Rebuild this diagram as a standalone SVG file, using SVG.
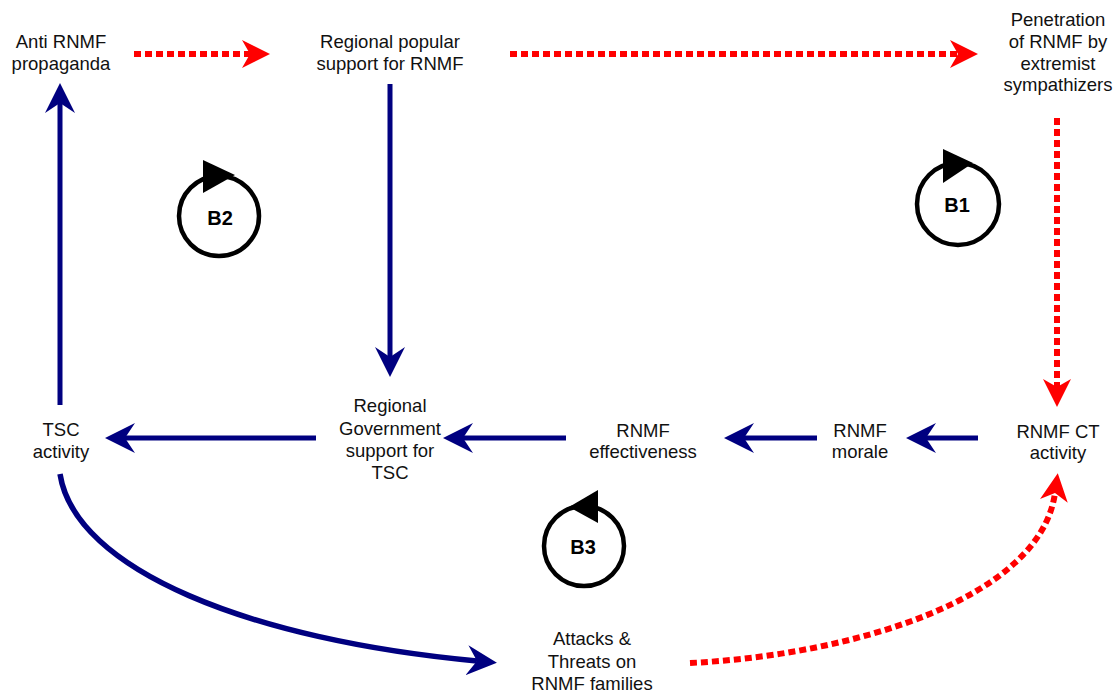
<svg xmlns="http://www.w3.org/2000/svg" width="1119" height="694" viewBox="0 0 1119 694">
  <style>
    .lbl { font-family: "Liberation Sans", Arial, sans-serif; font-size: 18.5px; fill: #111; text-anchor: middle; }
    .loopTxt { font-family: "Liberation Sans", Arial, sans-serif; font-size: 20px; font-weight: bold; fill: #000; text-anchor: middle; }
    .blue { fill: none; stroke: #000080; stroke-width: 5; marker-end: url(#blueHead); }
    .curve { stroke-width: 5.5; }
    .red { fill: none; stroke: #ff0000; stroke-width: 6; stroke-dasharray: 7 4; marker-end: url(#redHead); }
    .loop { fill: none; stroke: #000; stroke-width: 4.5; }
  </style>
  <defs>
    <marker id="blueHead" viewBox="0 0 30 30" markerWidth="30" markerHeight="30" refX="10" refY="15" orient="auto" markerUnits="userSpaceOnUse">
      <path d="M0,0 L30,15 L0,30 L10,15 Z" fill="#000080"/>
    </marker>
    <marker id="redHead" viewBox="0 0 28 28" markerWidth="28" markerHeight="28" refX="8" refY="14" orient="auto" markerUnits="userSpaceOnUse">
      <path d="M0,0 L28,14 L0,28 L8,14 Z" fill="#ff0000"/>
    </marker>
  </defs>
  <rect width="1119" height="694" fill="#fff"/>

  <g id="connectors">
    <path class="red" d="M134,54 L250,54"/>
    <path class="red" d="M510,54 L958,54"/>
    <path class="red" d="M1057,118 L1057,387"/>
    <path class="blue" d="M978,438 L926,438"/>
    <path class="blue" d="M817,438 L744,438"/>
    <path class="blue" d="M566,438 L463,438"/>
    <path class="blue" d="M316,438 L125,438"/>
    <path class="blue" d="M60,405 L60,103"/>
    <path class="blue" d="M390,84 L390,357"/>
    <path class="blue curve" d="M60,474 C75,570 250,640 477,661"/>
    <path class="red" d="M690,663 C850,655 1040,600 1055,493"/>
  </g>

  <g id="anti-rnmf-propaganda">
    <text class="lbl" x="61" y="48">Anti RNMF</text>
    <text class="lbl" x="61" y="70">propaganda</text>
  </g>
  <g id="regional-popular-support">
    <text class="lbl" x="390" y="48">Regional popular</text>
    <text class="lbl" x="390" y="70">support for RNMF</text>
  </g>
  <g id="penetration">
    <text class="lbl" x="1058" y="26">Penetration</text>
    <text class="lbl" x="1058" y="48">of RNMF by</text>
    <text class="lbl" x="1058" y="70">extremist</text>
    <text class="lbl" x="1058" y="91">sympathizers</text>
  </g>
  <g id="rnmf-ct-activity">
    <text class="lbl" x="1058" y="438">RNMF CT</text>
    <text class="lbl" x="1058" y="459">activity</text>
  </g>
  <g id="rnmf-morale">
    <text class="lbl" x="860" y="437">RNMF</text>
    <text class="lbl" x="860" y="458">morale</text>
  </g>
  <g id="rnmf-effectiveness">
    <text class="lbl" x="643" y="437">RNMF</text>
    <text class="lbl" x="643" y="458">effectiveness</text>
  </g>
  <g id="regional-government-support">
    <text class="lbl" x="390" y="412">Regional</text>
    <text class="lbl" x="390" y="435">Government</text>
    <text class="lbl" x="390" y="457">support for</text>
    <text class="lbl" x="390" y="479">TSC</text>
  </g>
  <g id="tsc-activity">
    <text class="lbl" x="61" y="436">TSC</text>
    <text class="lbl" x="61" y="458">activity</text>
  </g>
  <g id="attacks-threats">
    <text class="lbl" x="592" y="645">Attacks &amp;</text>
    <text class="lbl" x="592" y="668">Threats on</text>
    <text class="lbl" x="592" y="690">RNMF families</text>
  </g>

  <g id="loop-b2">
    <circle class="loop" cx="219" cy="216" r="40"/>
    <polygon points="203,160 235,175 203,193" fill="#000"/>
    <text class="loopTxt" x="220" y="225">B2</text>
  </g>
  <g id="loop-b1">
    <circle class="loop" cx="958" cy="204" r="41"/>
    <polygon points="943,149 973,163 943,183" fill="#000"/>
    <text class="loopTxt" x="957" y="212">B1</text>
  </g>
  <g id="loop-b3">
    <circle class="loop" cx="584" cy="546" r="40"/>
    <polygon points="598,490 569,507 598,523" fill="#000"/>
    <text class="loopTxt" x="583" y="554">B3</text>
  </g>
</svg>
